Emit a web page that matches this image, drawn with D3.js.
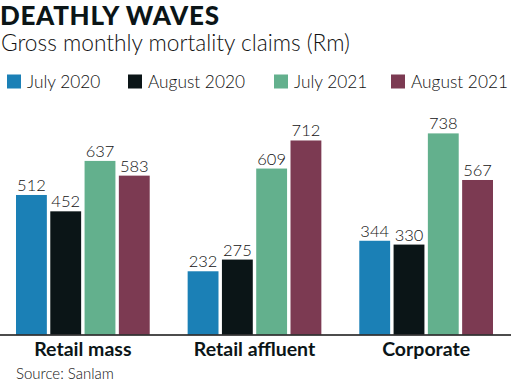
<!DOCTYPE html>
<html><head><meta charset="utf-8">
<script src="https://cdn.jsdelivr.net/npm/d3@7"></script>
<style>body{margin:0;background:#fff}svg{display:block}</style>
</head><body>
<svg id="c" width="512" height="383"></svg>
<script>
const categories = ["Retail mass", "Retail affluent", "Corporate"];
const seriesNames = ["July 2020", "August 2020", "July 2021", "August 2021"];
const july2020 = [512, 232, 344];
const august2020 = [452, 275, 330];
const july2021 = [637, 609, 738];
const august2021 = [583, 712, 567];
const seriesValues = [july2020, august2020, july2021, august2021];
const colors = ["#1b80b6", "#0b1517", "#63b08d", "#7c3a52"];

const svg = d3.select("#c");
const base = 334.5;
const x0 = d3.scaleBand().domain(categories).range([16, 493]).paddingInner(0.221).paddingOuter(0);
const x1 = d3.scaleBand().domain(seriesNames).range([0, x0.bandwidth()]).paddingInner(0.1).paddingOuter(0);
const y = d3.scaleLinear().domain([0, 800]).range([base, base - 0.2725 * 800]);

// title
svg.append("text").attr("x", 0).attr("y", 25).text("DEATHLY WAVES")
  .attr("font-family", "Lato").attr("font-weight", 900).attr("font-size", 26)
  .attr("letter-spacing", 0.7).attr("fill", "#0b1517");
svg.append("text").attr("x", 1).attr("y", 50.5).text("Gross monthly mortality claims (Rm)")
  .attr("font-family", "Lato").attr("font-weight", 300).attr("font-size", 22.7).attr("fill", "#111");

// legend
const legX = [7, 128, 274, 391];
const leg = svg.append("g");
seriesNames.forEach((s, i) => {
  leg.append("rect").attr("x", legX[i]).attr("y", 74.5).attr("width", 14).attr("height", 14).attr("fill", colors[i]);
  leg.append("text").attr("x", legX[i] + 20).attr("y", 87.5).text(s)
    .attr("font-family", "Lato").attr("font-weight", 300).attr("font-size", 17.3).attr("fill", "#111");
});

// bars
const groups = svg.append("g").selectAll("g").data(categories).join("g")
  .attr("transform", d => `translate(${x0(d)},0)`);
groups.each(function(cat, ci) {
  const g = d3.select(this);
  const data = seriesNames.map((s, si) => ({s, v: seriesValues[si][ci], c: colors[si]}));
  g.selectAll("rect").data(data).join("rect")
    .attr("x", d => x1(d.s)).attr("width", x1.bandwidth())
    .attr("y", d => y(d.v)).attr("height", d => base - y(d.v)).attr("fill", d => d.c);
  g.selectAll("text").data(data).join("text")
    .attr("x", d => x1(d.s) + x1.bandwidth() / 2).attr("y", d => y(d.v) - 4)
    .attr("text-anchor", "middle").text(d => d.v)
    .attr("font-family", "Lato").attr("font-weight", 300).attr("font-size", 16.5).attr("fill", "#111");
});

// axis
const axis = svg.append("g").attr("transform", `translate(0,${base})`)
  .call(d3.axisBottom(x0).tickSize(0).tickPadding(0));
axis.select(".domain").attr("d", "M0,0.5H511").attr("stroke", "#111").attr("stroke-width", 1.5);
axis.selectAll(".tick text").attr("y", 21).attr("dy", 0)
  .attr("font-family", "Lato").attr("font-weight", 700).attr("font-size", 19.5).attr("fill", "#0b1517");

svg.append("text").attr("x", 16).attr("y", 379).text("Source: Sanlam")
  .attr("font-family", "Lato").attr("font-weight", 300).attr("font-size", 15).attr("fill", "#111");
</script>
</body></html>
